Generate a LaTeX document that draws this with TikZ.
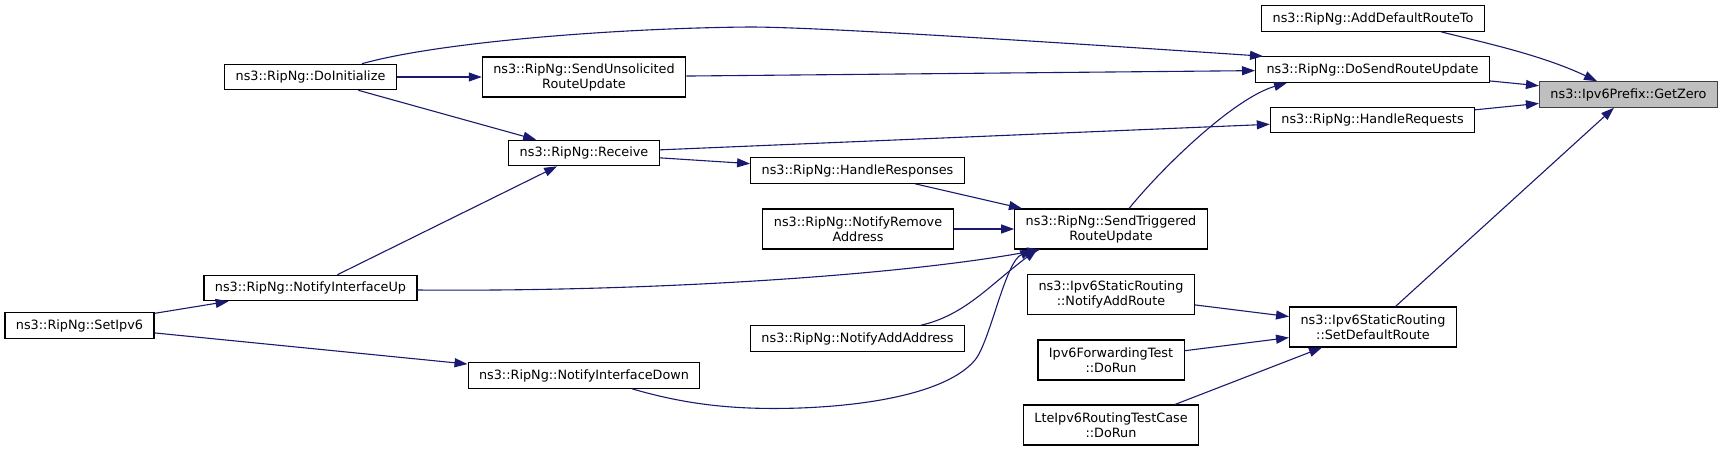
\documentclass[tikz,border=0pt]{standalone}
\usepackage{fontspec}
\setmainfont{DejaVu Sans}
\usetikzlibrary{arrows.meta}
\definecolor{edgeblue}{HTML}{191970}
\newcommand{\fnfont}{\fontsize{12.8}{15}\selectfont}

\begin{document}
\begin{tikzpicture}[
    x=1pt, y=-1pt,
    every node/.style={font=\fnfont},
    fn/.style={draw=black, fill=white, line width=1.1pt, inner xsep=11pt, inner ysep=0pt, minimum height=25.5pt, align=center},
    two/.style={minimum height=40pt},
    cur/.style={fill=black!25, draw=black!75},
    ed/.style={draw=edgeblue, line width=1.1pt, -{Triangle[length=13pt,width=9pt]}}
]
\useasboundingbox (0,0) rectangle (1724,451);
\node[fn,cur] (getzero)    at (1628.5,94.5) {ns3::Ipv6Prefix::GetZero};
\node[fn] (adddefault)     at (1373,18.5)   {ns3::RipNg::AddDefaultRouteTo};
\node[fn] (dosend)         at (1372.5,69.5) {ns3::RipNg::DoSendRouteUpdate};
\node[fn] (handlereq)      at (1372.5,120)  {ns3::RipNg::HandleRequests};
\node[fn,two] (setdefault) at (1373,327)    {ns3::Ipv6StaticRouting\\::SetDefaultRoute};
\node[fn] (doinit)         at (310.5,77)    {ns3::RipNg::DoInitialize};
\node[fn,two] (sendunsol)  at (584,77)      {ns3::RipNg::SendUnsolicited\\RouteUpdate};
\node[fn] (receive)        at (584,153)     {ns3::RipNg::Receive};
\node[fn] (ifup)           at (310.5,288)   {ns3::RipNg::NotifyInterfaceUp};
\node[fn] (setipv6)        at (79.5,325.5)  {ns3::RipNg::SetIpv6};
\node[fn] (ifdown)         at (584,375.5)   {ns3::RipNg::NotifyInterfaceDown};
\node[fn] (handleresp)     at (857.5,170.5) {ns3::RipNg::HandleResponses};
\node[fn,two] (notifyremove) at (858,229)   {ns3::RipNg::NotifyRemove\\Address};
\node[fn] (addaddr)        at (857.5,338.5) {ns3::RipNg::NotifyAddAddress};
\node[fn,two] (sendtrig)   at (1111,229)    {ns3::RipNg::SendTriggered\\RouteUpdate};
\node[fn,two] (addroute)   at (1111,294.5)  {ns3::Ipv6StaticRouting\\::NotifyAddRoute};
\node[fn,two] (fwdtest)    at (1111,360)    {Ipv6ForwardingTest\\::DoRun};
\node[fn,two] (ltetest)    at (1111,425)    {LteIpv6RoutingTestCase\\::DoRun};
% callers of GetZero
\draw[ed] ([xshift=68pt]adddefault.south) .. controls +(39,10) and +(-57,-27) .. ([xshift=-31.5pt]getzero.north);
\draw[ed] (dosend) -- (getzero);
\draw[ed] (handlereq) -- (getzero);
\draw[ed] (setdefault) -- (getzero);
% DoSendRouteUpdate
\draw[ed] ([xshift=51.5pt]doinit.north) .. controls +(78,-22) and +(-130,1) .. (750,27)
  .. controls +(50,0) and +(-313,-21) .. ([xshift=8pt]dosend.north west);
\draw[ed] (sendunsol) -- (dosend);
\draw[ed] ([xshift=18pt]sendtrig.north) .. controls +(36,-44) and +(-52,15) .. ([xshift=-85.5pt]dosend.south);
% Receive and handlers
\draw[ed] (receive) -- (handlereq);
\draw[ed] (receive) -- (handleresp);
\draw[ed] (doinit) -- (sendunsol);
\draw[ed] (doinit) -- (receive);
\draw[ed] (ifup) -- (receive);
\draw[ed] (setipv6) -- (ifup);
\draw[ed] (setipv6) -- (ifdown);
% SendTriggeredRouteUpdate
\draw[ed] (handleresp) -- (sendtrig);
\draw[ed] (notifyremove) -- (sendtrig);
\draw[ed] ([yshift=-2pt]ifup.east) .. controls +(231,2) and +(-140,26) .. ([xshift=26pt]sendtrig.south west);
\draw[ed] ([xshift=63.5pt]addaddr.north) .. controls +(44,-10) and +(-47,35) .. ([xshift=23pt]sendtrig.south west);
\draw[ed] ([xshift=48pt]ifdown.south) .. controls +(58,17) and +(-60,2) .. (800,408)
  .. controls +(80,-3) and +(-25,30) .. (975,360)
  .. controls +(15,-18) and +(-28,12) .. ([xshift=19pt]sendtrig.south west);
% SetDefaultRoute
\draw[ed] (addroute) -- (setdefault);
\draw[ed] (fwdtest) -- (setdefault);
\draw[ed] ([xshift=64pt]ltetest.north) -- ([xshift=-51pt]setdefault.south);
\end{tikzpicture}
\end{document}
